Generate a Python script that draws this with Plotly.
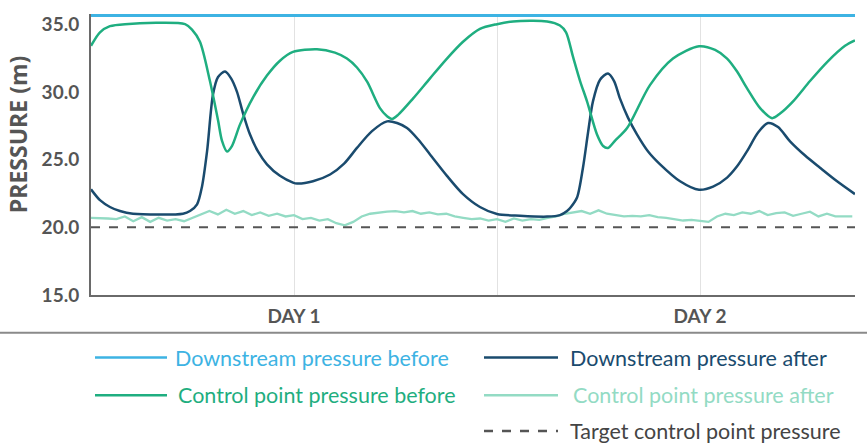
import plotly.graph_objects as go

# ---------------- data (hours from start of chart) ----------------
x_end = 45.16
downstream_before_x = [0, 45.16]
downstream_before_y = [35.66, 35.66]

target_x = [0, 45.16]
target_y = [20.0, 20.0]

cp_before_x = [0, 0.53, 1.12, 2.01, 5.56, 5.97, 6.44, 7.03, 7.51, 7.74, 8.04, 8.33, 8.81, 9.58,
               10.40, 11.17, 11.94, 13.36, 14.42, 15.13, 15.72, 16.32, 17.08, 17.50, 17.79, 18.15,
               19.03, 20.04, 21.04, 21.99, 22.99, 24.0, 24.95, 26.96, 27.72, 28.08, 28.49, 28.91,
               29.32, 29.91, 30.27, 30.56, 30.98, 31.69, 33.04, 34.40, 35.94, 36.89, 37.60, 38.19,
               38.78, 39.55, 40.26, 40.73, 41.50, 42.50, 43.51, 44.57, 45.16]
cp_before_y = [33.4, 34.4, 34.85, 35.0, 35.0, 34.6, 33.7, 30.8, 27.9, 26.4, 25.6, 26.0, 27.6, 29.6,
               31.2, 32.3, 32.95, 33.15, 32.9, 32.46, 31.8, 30.75, 28.8, 28.2, 28.0, 28.3,
               29.5, 31.0, 32.46, 33.7, 34.65, 35.0, 35.2, 35.2, 34.9, 34.4, 32.6, 30.8,
               29.3, 26.85, 26.0, 25.86, 26.4, 27.33, 30.5, 32.46, 33.37, 33.1, 32.46, 31.5,
               30.26, 28.8, 28.06, 28.4, 29.3, 30.8, 32.2, 33.4, 33.8]

ds_after_x = [0, 0.53, 1.12, 1.71, 2.48, 5.44, 5.85, 6.27, 6.56, 6.86, 7.21, 7.51, 7.92, 8.28,
              8.63, 8.99, 9.40, 9.87, 10.40, 11.17, 11.94, 12.18, 13.12, 14.13, 14.96, 15.72,
              16.61, 17.50, 18.09, 18.68, 19.33, 20.04, 21.04, 21.99, 22.99, 24.0, 25.36, 26.96,
              27.72, 28.14, 28.37, 28.73, 29.08, 29.38, 29.67, 30.09, 30.56, 30.92, 31.27, 31.74,
              32.28, 32.93, 33.64, 34.82, 35.94, 36.77, 37.60, 38.19, 38.78, 39.43, 40.02, 40.61,
              41.32, 42.21, 43.09, 44.10, 45.16]
ds_after_y = [22.8, 22.0, 21.5, 21.2, 21.0, 21.0, 21.2, 21.7, 23.0, 25.6, 29.8, 31.1, 31.5, 31.0,
              30.0, 28.4, 26.85, 25.6, 24.65, 23.8, 23.3, 23.23, 23.4, 23.9, 24.7, 25.86,
              27.1, 27.82, 27.7, 27.33, 26.5, 25.38, 23.8, 22.45, 21.5, 20.98, 20.85, 20.79,
              20.9, 21.2, 21.5, 22.2, 24.4, 27.0, 29.3, 30.9, 31.36, 30.8, 29.5, 28.1,
              26.85, 25.6, 24.65, 23.4, 22.77, 23.0, 23.67, 24.5, 25.62, 27.0, 27.7, 27.4,
              26.35, 25.3, 24.4, 23.4, 22.45]

# control point pressure after, read every half hour
cp_after_y = [20.7, 20.7, 20.65, 20.6,
              20.8, 20.45, 20.75, 20.4, 20.7, 20.5, 20.6, 20.45, 20.7,
              21.0, 21.2, 20.95, 21.3, 21.0, 21.2, 20.9, 21.1, 20.85, 21.0, 20.8,
              20.9, 20.6, 20.7, 20.5, 20.6, 20.3, 20.15,
              20.4, 20.8,
              21.0, 21.1, 21.15, 21.2, 21.1, 21.2, 21.0, 21.1, 20.95, 21.0,
              20.8, 20.7, 20.6, 20.65, 20.5,
              20.6, 20.4, 20.65, 20.5, 20.6, 20.55, 20.7, 20.8,
              21.0, 21.1, 21.2, 21.0, 21.25, 21.0,
              20.9, 20.8, 20.85, 20.8, 20.9, 20.75, 20.7,
              20.6, 20.5, 20.55, 20.45, 20.4,
              20.8, 21.0, 20.9, 21.1, 21.0, 21.2, 20.9, 21.05, 21.1, 20.85, 21.0, 21.15,
              20.8, 21.0, 20.8, 20.8, 20.8]
cp_after_x = [i * 0.5 for i in range(len(cp_after_y))]

y_ticks = [15, 20, 25, 30, 35]
x_tick_vals = [12, 24, 36]
x_tick_text = ["DAY 1", "", "DAY 2"]
y_title = "PRESSURE (m)"

series_names = ["Downstream pressure before", "Downstream pressure after",
                "Control point pressure before", "Control point pressure after",
                "Target control point pressure"]

C_BLUE = "#3db3e3"
C_GREEN = "#1fae80"
C_NAVY = "#1a4b6e"
C_MINT = "#93dbc4"
C_DASH = "#555555"
FONT = "Lato, Roboto, sans-serif"

fig = go.Figure()
fig.add_trace(go.Scatter(x=cp_after_x, y=cp_after_y, mode="lines",
                         line=dict(color=C_MINT, width=2.3)))
fig.add_trace(go.Scatter(x=target_x, y=target_y, mode="lines",
                         line=dict(color=C_DASH, width=2, dash="dash")))
fig.add_trace(go.Scatter(x=ds_after_x, y=ds_after_y, mode="lines",
                         line=dict(color=C_NAVY, width=2.5, shape="spline", smoothing=0.8)))
fig.add_trace(go.Scatter(x=cp_before_x, y=cp_before_y, mode="lines",
                         line=dict(color=C_GREEN, width=2.5, shape="spline", smoothing=0.8)))
fig.add_trace(go.Scatter(x=downstream_before_x, y=downstream_before_y, mode="lines",
                         line=dict(color=C_BLUE, width=3.5)))

W, H = 867, 445
L, R, T, B = 91, 855, 12, 295


def px(xp):
    return (xp - L) / (R - L)


def py(yp):
    return (B - yp) / (B - T)


shapes = []
annotations = []
# separator line
shapes.append(dict(type="line", xref="paper", yref="paper", x0=px(0), x1=px(867),
                   y0=py(333), y1=py(333), line=dict(color="#8a8a8a", width=2)))

legend_items = [
    (series_names[0], C_BLUE, "solid", 95, 167, 173, 358),
    (series_names[1], C_NAVY, "solid", 484, 558, 568, 358),
    (series_names[2], C_GREEN, "solid", 95, 167, 176, 396),
    (series_names[3], C_MINT, "solid", 484, 558, 571, 396),
    (series_names[4], C_DASH, "dash", 484, 558, 568, 432),
]
for name, col, dash, lx0, lx1, tx, ty in legend_items:
    shapes.append(dict(type="line", xref="paper", yref="paper", x0=px(lx0), x1=px(lx1),
                       y0=py(ty), y1=py(ty), line=dict(color=col, width=2.5, dash=dash)))
    annotations.append(dict(xref="paper", yref="paper", x=px(tx), y=py(ty), text=name,
                            showarrow=False, xanchor="left", yanchor="middle",
                            font=dict(family=FONT, size=21.5,
                                      color=("#444444" if dash == "dash" else col))))

# y-axis title placed as in reference
annotations.append(dict(xref="paper", yref="paper", x=px(18), y=py(134), text=y_title,
                        textangle=-90, showarrow=False, xanchor="center", yanchor="middle",
                        font=dict(family="Open Sans, Lato, sans-serif", size=23,
                                  color="#555555", weight="bold")))

fig.update_layout(
    width=W, height=H,
    margin=dict(l=L, r=W - R, t=T, b=H - B),
    plot_bgcolor="white", paper_bgcolor="white",
    showlegend=False,
    shapes=shapes, annotations=annotations,
    xaxis=dict(range=[0, x_end], tickvals=x_tick_vals, ticktext=x_tick_text,
               showgrid=True, gridcolor="#e2e2e2", gridwidth=1,
               showline=True, linecolor="#6a6a6a", linewidth=2, zeroline=False,
               ticks="", tickfont=dict(family=FONT, size=19, color="#555555", weight="bold"),
               ticklabelstandoff=3),
    yaxis=dict(range=[15, 35.75], tickvals=y_ticks, tickformat=".1f",
               showgrid=False, showline=True, linecolor="#6a6a6a", linewidth=2,
               zeroline=False, ticks="", ticklabelstandoff=6,
               tickfont=dict(family=FONT, size=19, color="#555555", weight="bold")),
)

fig.write_html("out.html", config={"displayModeBar": False},
               post_script="document.body.style.margin='0';document.body.style.padding='0';")
